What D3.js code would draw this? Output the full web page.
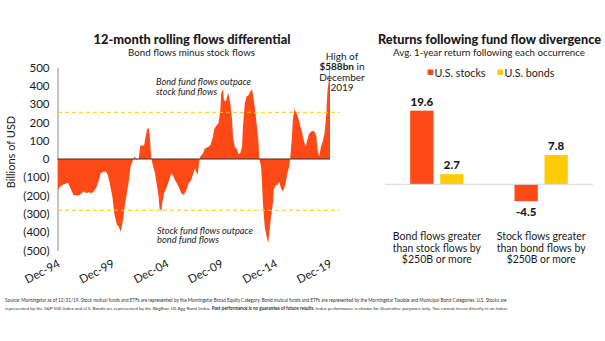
<!DOCTYPE html>
<html>
<head>
<meta charset="utf-8">
<script src="https://cdn.jsdelivr.net/npm/d3@7"></script>
<style>
  html, body { margin: 0; padding: 0; background: #fff; }
  svg { display: block; font-family: Lato, "Noto Sans", sans-serif; }
</style>
</head>
<body>
<svg id="chart" width="605" height="341"></svg>
<script>
// 12-month rolling flows differential (bond fund flows minus stock fund flows), $bn
const flowMonths = [
  "1994-12","1995-02","1995-06","1995-11","1996-01","1996-05","1996-09","1996-12",
  "1997-04","1997-08","1997-10","1997-12","1998-03","1998-06","1998-09","1998-11",
  "1999-02","1999-05","1999-07","1999-09","1999-12","2000-02","2000-05","2000-07",
  "2000-09","2000-11","2001-02","2001-04","2001-06","2001-08","2001-10","2001-12",
  "2002-01","2002-02","2002-04","2002-05","2002-07","2002-09","2002-11","2002-12",
  "2003-02","2003-04","2003-05","2003-07","2003-09","2003-11","2004-01","2004-03",
  "2004-04","2004-06","2004-07","2004-09","2004-12","2005-02","2005-05","2005-07",
  "2005-10","2006-01","2006-04","2006-06","2006-09","2006-12","2007-03","2007-07",
  "2007-10","2007-12","2008-01","2008-04","2008-06","2008-09","2008-11","2008-12",
  "2009-03","2009-04","2009-06","2009-09","2009-11","2009-12","2010-02","2010-03",
  "2010-05","2010-07","2010-08","2010-10","2010-12","2011-01","2011-03","2011-05",
  "2011-07","2011-09","2011-11","2011-12","2012-02","2012-04","2012-06","2012-08",
  "2012-10","2012-11","2013-01","2013-03","2013-05","2013-06","2013-08","2013-09",
  "2013-10","2013-12","2014-02","2014-04","2014-05","2014-07","2014-09","2014-10",
  "2014-12","2015-02","2015-04","2015-06","2015-08","2015-10","2015-11","2016-01",
  "2016-03","2016-04","2016-06","2016-07","2016-09","2016-10","2016-12","2017-02",
  "2017-05","2017-07","2017-09","2017-11","2018-01","2018-03","2018-05","2018-07",
  "2018-09","2018-10","2018-12","2019-02","2019-04","2019-06","2019-08","2019-09",
  "2019-10","2019-11","2019-12"
];
const flowValues = [
  -170,-151,-140,-130,-151,-197,-200,-197,
  -178,-187,-180,-187,-180,-160,-115,-78,
  -69,-69,-87,-133,-206,-297,-361,-370,
  -397,-352,-242,-187,-124,-42,-15,9,
  13,-5,0,2,76,73,76,104,
  158,171,140,0,-42,-78,-142,-206,
  -270,-284,-242,-187,-151,-124,-78,-93,
  -124,-151,-187,-197,-178,-133,-115,-51,
  -87,-5,13,31,58,64,71,76,
  122,158,177,195,268,359,381,322,
  313,349,359,304,213,122,67,58,
  27,31,67,177,304,341,349,368,
  381,349,286,195,104,0,-42,-133,
  -242,-370,-424,-461,-406,-315,-242,-170,
  -142,-142,-124,-160,-178,-151,-133,-78,
  -42,0,122,213,277,259,240,204,
  149,104,67,104,140,149,155,149,
  122,58,13,67,95,140,249,359,
  404,430,588
];
const yTicks = [500, 400, 300, 200, 100, 0, -100, -200, -300, -400, -500];
const xTickDates = ["1994-12","1999-12","2004-12","2009-12","2014-12","2019-12"];
const thresholds = [255, -280];

// Average 1-year return following each divergence occurrence, %
const groups = ["Bond flows greater than stock flows by $250B or more",
                "Stock flows greater than bond flows by $250B or more"];
const groupLines = [["Bond flows greater", "than stock flows by", "$250B or more"],
                    ["Stock flows greater", "than bond flows by", "$250B or more"]];
const seriesNames = ["U.S. stocks", "U.S. bonds"];
const stockReturns = [19.6, -4.5];
const bondReturns = [2.7, 7.8];

const RED = "#FF4A17";
const YELLOW = "#FFCB05";
const INK = "#1a1a1a";

// squeeze a single-run text to a given width
function fit(sel, w) {
  sel.attr("textLength", w).attr("lengthAdjust", "spacingAndGlyphs");
}
// scale font size so a text (with tspans) spans a given width
function fitSize(sel, w) {
  const n = sel.node();
  const fs = parseFloat(getComputedStyle(n).fontSize);
  const len = n.getComputedTextLength();
  sel.attr("font-size", fs * w / len);
}

const svg = d3.select("#chart");
const parseMonth = d3.timeParse("%Y-%m");
const flows = flowMonths.map((m, i) => ({ date: parseMonth(m), value: flowValues[i] }));

// ---------- Left panel: area chart ----------
const x = d3.scaleTime()
  .domain([parseMonth("1994-12"), parseMonth("2019-12")])
  .range([58, 330]);
const y = d3.scaleLinear().domain([-500, 500]).range([250.5, 67.5]);

const left = svg.append("g");

left.append("text")
  .attr("x", 192).attr("y", 43.5)
  .attr("text-anchor", "middle")
  .attr("font-size", 12.5).attr("font-weight", 900).attr("fill", INK)
  .text("12-month rolling flows differential")
  .call(fit, 197);
left.append("text")
  .attr("x", 191.5).attr("y", 55.5)
  .attr("text-anchor", "middle")
  .attr("font-size", 10).attr("fill", INK)
  .text("Bond flows minus stock flows")
  .call(fit, 127);

// y axis: line plus bracketed negative labels, no tick marks
const yAxis = d3.axisLeft(y)
  .tickValues(yTicks)
  .tickSize(0)
  .tickPadding(8)
  .tickFormat(d => d < 0 ? `(${-d})` : `${d}`);
const yg = left.append("g").attr("transform", "translate(57.5,0)").call(yAxis);
yg.select(".domain").attr("stroke", "#8c8c8c").attr("stroke-width", 1);
yg.selectAll("text")
  .attr("font-size", 11.5).attr("fill", INK)
  .attr("font-family", "Lato, sans-serif");

left.append("text")
  .attr("transform", "translate(15,152) rotate(-90)")
  .attr("text-anchor", "middle")
  .attr("font-size", 11).attr("fill", INK)
  .text("Billions of USD");

// the flows area, filled from zero
const area = d3.area()
  .x(d => x(d.date))
  .y0(y(0))
  .y1(d => y(d.value));
left.append("path")
  .datum(flows)
  .attr("d", area)
  .attr("fill", RED);

// +/- divergence thresholds
left.selectAll("line.threshold")
  .data(thresholds)
  .join("line")
  .attr("class", "threshold")
  .attr("x1", 58).attr("x2", 340)
  .attr("y1", d => y(d)).attr("y2", d => y(d))
  .attr("stroke", YELLOW).attr("stroke-width", 1)
  .attr("stroke-dasharray", "4,3");

// zero line
left.append("line")
  .attr("x1", 57.5).attr("x2", 330)
  .attr("y1", y(0)).attr("y2", y(0))
  .attr("stroke", "#333").attr("stroke-width", 1.2);

// x axis labels, rotated
const xAxis = d3.axisBottom(x)
  .tickValues(xTickDates.map(parseMonth))
  .tickSize(0)
  .tickFormat(d3.timeFormat("Dec-%y"));
const xg = left.append("g").attr("transform", `translate(0,${y(-500)})`).call(xAxis);
xg.select(".domain").remove();
xg.selectAll("text")
  .attr("font-size", 11.5).attr("fill", INK)
  .attr("font-family", "Lato, sans-serif")
  .attr("text-anchor", "end")
  .attr("dy", 0)
  .attr("transform", "translate(1,13) rotate(-28)");

// region notes
const noteStyle = sel => sel.attr("font-size", 9.5).attr("font-style", "italic").attr("fill", INK);
left.append("text").attr("x", 156).attr("y", 85).call(noteStyle).text("Bond fund flows outpace").call(fit, 95);
left.append("text").attr("x", 156).attr("y", 95).call(noteStyle).text("stock fund flows").call(fit, 61);
left.append("text").attr("x", 157).attr("y", 233.5).call(noteStyle).text("Stock fund flows outpace").call(fit, 96);
left.append("text").attr("x", 157).attr("y", 243).call(noteStyle).text("bond fund flows").call(fit, 62);

// peak callout
const peak = flows[flows.length - 1];
const callout = left.append("text")
  .attr("x", 342).attr("y", 59.5)
  .attr("text-anchor", "middle")
  .attr("font-size", 10).attr("fill", INK);
callout.append("tspan").attr("x", 342).attr("dy", 0).text("High of");
callout.append("tspan").attr("x", 342).attr("dy", 10.5)
  .attr("font-weight", 700).text(`$${peak.value}bn`)
  .append("tspan").attr("font-weight", 400).text(" in");
callout.append("tspan").attr("x", 342).attr("dy", 10.5).text("December");
callout.append("tspan").attr("x", 342).attr("dy", 10.5).text(d3.timeFormat("%Y")(peak.date));

// ---------- Right panel: grouped bars ----------
const right = svg.append("g");

right.append("text")
  .attr("x", 489.5).attr("y", 43.5)
  .attr("text-anchor", "middle")
  .attr("font-size", 12.5).attr("font-weight", 900).attr("fill", INK)
  .text("Returns following fund flow divergence")
  .call(fit, 223);
right.append("text")
  .attr("x", 489).attr("y", 55.5)
  .attr("text-anchor", "middle")
  .attr("font-size", 10).attr("fill", INK)
  .text("Avg. 1-year return following each occurrence")
  .call(fit, 192);

// legend
const legendColors = [RED, YELLOW];
const legendX = [427.5, 497.5];
const legendW = [51, 50];
const legend = right.selectAll("g.legend")
  .data(seriesNames)
  .join("g")
  .attr("class", "legend")
  .attr("transform", (d, i) => `translate(${legendX[i]},72.5)`);
legend.append("rect")
  .attr("x", 0).attr("y", -3).attr("width", 5.5).attr("height", 5.5)
  .attr("fill", (d, i) => legendColors[i]);
legend.append("text")
  .attr("x", 7).attr("y", 4)
  .attr("font-size", 11).attr("fill", INK)
  .text(d => d)
  .each(function(d, i) { d3.select(this).call(fit, legendW[i]); });

const x0 = d3.scaleBand().domain(groups).range([384.7, 593.3]).padding(0);
const x1 = d3.scaleBand().domain(seriesNames)
  .range([25.5, 78.8]).paddingInner(0.223).paddingOuter(0);
const yr = d3.scaleLinear().domain([-5, 20]).range([203.1, 109.2]);

const barData = groups.map((g, i) => ({
  group: g,
  values: [
    { series: seriesNames[0], value: stockReturns[i], color: RED },
    { series: seriesNames[1], value: bondReturns[i], color: YELLOW }
  ]
}));

const gGroups = right.selectAll("g.group")
  .data(barData)
  .join("g")
  .attr("class", "group")
  .attr("transform", d => `translate(${x0(d.group)},0)`);

gGroups.selectAll("rect")
  .data(d => d.values)
  .join("rect")
  .attr("x", d => x1(d.series))
  .attr("width", x1.bandwidth())
  .attr("y", d => yr(Math.max(0, d.value)))
  .attr("height", d => Math.abs(yr(d.value) - yr(0)))
  .attr("fill", d => d.color);

const fmtVal = v => d3.format(".1f")(v).replace("\u2212", "-");
gGroups.selectAll("text.val")
  .data(d => d.values)
  .join("text")
  .attr("class", "val")
  .attr("x", d => x1(d.series) + x1.bandwidth() / 2)
  .attr("y", d => d.value >= 0 ? yr(d.value) - 5 : yr(d.value) + 15)
  .attr("text-anchor", "middle")
  .attr("font-size", 11.5).attr("font-weight", 900).attr("fill", INK)
  .text(d => fmtVal(d.value));

// baseline
right.append("line")
  .attr("x1", 385).attr("x2", 593)
  .attr("y1", yr(0)).attr("y2", yr(0))
  .attr("stroke", "#d9d9d9").attr("stroke-width", 1);

// category labels
const lineW = [[88, 88, 70], [89, 89, 69]];
gGroups.each(function(d, i) {
  groupLines[i].forEach((line, j) => {
    d3.select(this).append("text")
      .attr("text-anchor", "middle")
      .attr("x", x0.bandwidth() / 2)
      .attr("y", 240 + j * 11.7)
      .attr("font-size", 11).attr("fill", INK)
      .text(line)
      .call(fit, lineW[i][j]);
  });
});

// ---------- Footnote ----------
const foot = svg.append("g").attr("fill", "#333");
const f1 = foot.append("text").attr("x", 5).attr("y", 301.5).attr("font-size", 6)
  .text("Source: Morningstar as of 12/31/19. Stock mutual funds and ETFs are represented by the Morningstar Broad Equity Category. Bond mutual funds and ETFs are represented by the Morningstar Taxable and Municipal Bond Categories. U.S. Stocks are");
const f2 = foot.append("text").attr("x", 5).attr("y", 309.5).attr("font-size", 6);
f2.append("tspan").text("represented by the S&P 500 Index and U.S. Bonds are represented by the BbgBarc US Agg Bond Index. ");
f2.append("tspan").attr("font-weight", 700).text("Past performance is no guarantee of future results.");
f2.append("tspan").text(" Index performance is shown for illustrative purposes only. You cannot invest directly in an index.");
fitSize(f1, 503);
fitSize(f2, 505);
</script>
</body>
</html>
